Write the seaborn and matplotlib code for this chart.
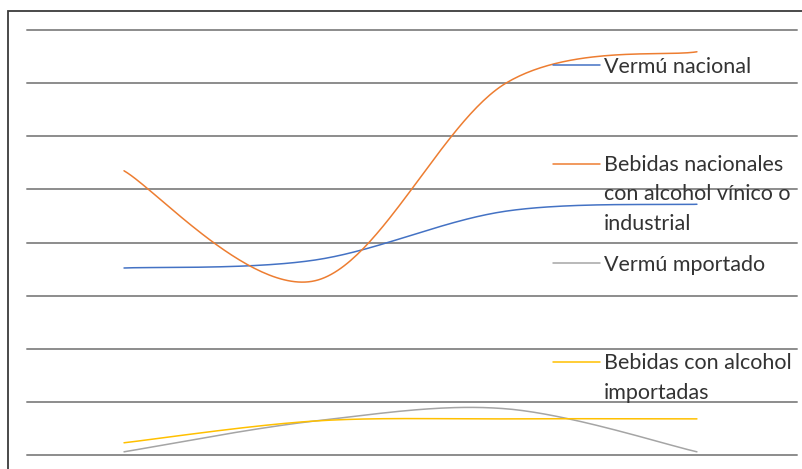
import numpy as np
import pandas as pd
import matplotlib
matplotlib.use("Agg")
import matplotlib.pyplot as plt
import seaborn as sns
from matplotlib.patches import Rectangle
from matplotlib.lines import Line2D

# ---------------- data ----------------
periods = ["P1", "P2", "P3", "P4"]
vermu_nacional = [3.52, 3.67, 4.59, 4.72]
bebidas_nacionales = [5.35, 3.28, 7.00, 7.59]
vermu_importado = [0.06, 0.64, 0.87, 0.06]
bebidas_importadas = [0.23, 0.64, 0.68, 0.68]
series_labels = [
    "Vermú nacional",
    "Bebidas nacionales\ncon alcohol vínico o\nindustrial",
    "Vermú mportado",
    "Bebidas con alcohol\nimportadas",
]
y_grid_values = list(range(0, 9))

# ---------------- styling ----------------
W, H = 802, 469
colors = ["#4472C4", "#ED7D31", "#A5A5A5", "#FFC000"]

sns.set_style("white")
plt.rcParams["font.family"] = ["Lato", "DejaVu Sans"]


def smooth_curve(xs, ys, n=60):
    """Excel-like smoothed line: Catmull-Rom style cubic Bezier through the points."""
    P = np.column_stack([xs, ys]).astype(float)
    m = len(P)
    out = [P[0]]
    t = np.linspace(0, 1, n)[1:, None]
    for i in range(m - 1):
        p0 = P[max(i - 1, 0)]
        p1 = P[i]
        p2 = P[i + 1]
        p3 = P[min(i + 2, m - 1)]
        c1 = p1 + (p2 - p0) / 6.0
        c2 = p2 - (p3 - p1) / 6.0
        seg = (1 - t) ** 3 * p1 + 3 * (1 - t) ** 2 * t * c1 + 3 * (1 - t) * t ** 2 * c2 + t ** 3 * p2
        out.extend(seg)
    return np.array(out)


all_series = [vermu_nacional, bebidas_nacionales, vermu_importado, bebidas_importadas]
x_idx = np.arange(len(periods))
frames = []
for k, (name, vals) in enumerate(zip(series_labels, all_series)):
    c = smooth_curve(x_idx, vals)
    frames.append(pd.DataFrame({"x": c[:, 0], "y": c[:, 1], "series": name,
                                "order": np.arange(len(c))}))
df = pd.concat(frames, ignore_index=True)

fig = plt.figure(figsize=(W / 100, H / 100), dpi=100)
ax = fig.add_axes([27 / W, 14 / H, 770 / W, 425 / H])

sns.lineplot(data=df, x="x", y="y", hue="series", hue_order=series_labels,
             palette=colors, sort=False, estimator=None, linewidth=1.1,
             legend=False, ax=ax)

ax.set_xlim(-0.508, 3.524)
ax.set_ylim(0, 8)
ax.set_yticks(y_grid_values)
ax.set_xticks([])
ax.tick_params(left=False, bottom=False, labelleft=False, labelbottom=False)
ax.set_xlabel("")
ax.set_ylabel("")
for s in ax.spines.values():
    s.set_visible(False)
ax.grid(axis="y", color="#8c8c8c", linewidth=1.4)
ax.set_axisbelow(True)
for gl in ax.get_ygridlines():
    gl.set_clip_on(False)

# chart border (only left and top visible in the crop)
fig.add_artist(Rectangle((8 / W, -0.1), 1.2, (H - 11) / H + 0.1,
                         transform=fig.transFigure, fill=False,
                         edgecolor="#3a3a3a", linewidth=1.3))

# ---------------- legend (drawn manually, Excel-like) ----------------
line_step = 29
handle_y = [65, 164, 263, 362]
first_baseline_y = [73, 172, 271, 370]
for color, label, hy, by in zip(colors, series_labels, handle_y, first_baseline_y):
    fig.add_artist(Line2D([553 / W, 600 / W], [1 - hy / H, 1 - hy / H],
                          transform=fig.transFigure, color=color, linewidth=1.1))
    n_lines = label.count("\n") + 1
    last_baseline = by + (n_lines - 1) * line_step
    fig.text(604 / W, 1 - last_baseline / H, label, ha="left", va="baseline",
             fontsize=15.5, color="#333333", linespacing=1.6)

fig.savefig("out.png", dpi=100)
